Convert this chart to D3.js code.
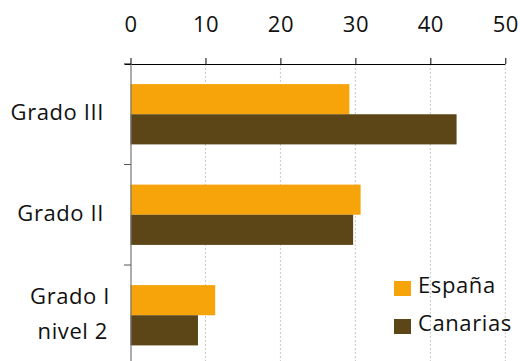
<!DOCTYPE html>
<html><head><meta charset="utf-8">
<script src="https://cdn.jsdelivr.net/npm/d3@7"></script>
<style>html,body{margin:0;padding:0;background:#fff}svg{display:block}</style>
</head><body>
<svg id="c" width="520" height="361"></svg>
<script>
const categories = [["Grado III"], ["Grado II"], ["Grado I", "nivel 2"]];
const seriesNames = ["España", "Canarias"];
const espana = [29.2, 30.7, 11.3];
const canarias = [43.5, 29.7, 9.0];
const tickValues = [0, 10, 20, 30, 40, 50];
const colors = ["#F7A40B", "#5C4517"];

const svg = d3.select("#c");
const font = "'Open Sans', sans-serif";
const x = d3.scaleLinear().domain([0, 50]).range([130.5, 505.3]);
const keys = categories.map(c => c.join(" "));
const y = d3.scaleBand().domain(keys).range([64, 365.5]).paddingInner(0.4).paddingOuter(0.2);
const ys = d3.scaleBand().domain(seriesNames).range([0, y.bandwidth()]);
const values = [espana, canarias];

// gridlines
svg.append("g").selectAll("line").data(tickValues.slice(1)).join("line")
  .attr("x1", d => x(d)).attr("x2", d => x(d)).attr("y1", 64).attr("y2", 361)
  .attr("stroke", "#c8c8c8").attr("stroke-width", 1).attr("stroke-dasharray", "2,2");

// bars
seriesNames.forEach((s, si) => {
  svg.append("g").selectAll("rect").data(values[si]).join("rect")
    .attr("x", x(0)).attr("y", (d, i) => y(keys[i]) + ys(s))
    .attr("width", d => x(d) - x(0)).attr("height", ys.bandwidth())
    .attr("fill", colors[si]);
});

// top axis
const ax = svg.append("g").attr("transform", "translate(0,64)")
  .call(d3.axisTop(x).tickValues(tickValues).tickSize(6).tickSizeOuter(0).tickPadding(0));
ax.select(".domain").remove();
ax.append("line").attr("x1", 125).attr("x2", 505.3).attr("y1", 0.5).attr("y2", 0.5).attr("stroke", "#000");
ax.selectAll(".tick line").attr("stroke", "#000");
ax.selectAll(".tick text").attr("font-family", font).attr("font-size", 22).attr("fill", "#111")
  .attr("letter-spacing", 0.5).attr("y", -32).attr("dy", 0);

// y axis line
svg.append("line").attr("x1", 131).attr("x2", 131).attr("y1", 64).attr("y2", 361)
  .attr("stroke", "#777").attr("stroke-width", 1.2);
const bounds = [64, y(keys[1]) - y.step() * y.paddingInner() / 2, y(keys[2]) - y.step() * y.paddingInner() / 2];
svg.append("g").selectAll("line").data(bounds).join("line")
  .attr("x1", 124).attr("x2", 131).attr("y1", d => d).attr("y2", d => d)
  .attr("stroke", (d, i) => i === 0 ? "#000" : "#555");

// category labels
const lab = svg.append("g").attr("font-family", font).attr("font-size", 22).attr("fill", "#111")
  .attr("letter-spacing", 0.6).attr("text-anchor", "end");
categories.forEach((lines, i) => {
  const cy = y(keys[i]) + y.bandwidth() / 2;
  const lh = 35;
  lines.forEach((t, j) => {
    const off = (j - (lines.length - 1) / 2) * lh;
    lab.append("text").attr("x", lines.length > 1 ? 110 - j * 2 : 104)
      .attr("y", cy + off + 6).text(t);
  });
});

// legend
const lg = svg.append("g").attr("font-family", font).attr("font-size", 22).attr("fill", "#111")
  .attr("letter-spacing", 0.6);
seriesNames.forEach((s, i) => {
  const yy = 281 + i * 38;
  lg.append("rect").attr("x", 394).attr("y", yy).attr("width", 17).attr("height", 15).attr("fill", colors[i]);
  lg.append("text").attr("x", 418).attr("y", yy + 12).text(s);
});
</script>
</body></html>
